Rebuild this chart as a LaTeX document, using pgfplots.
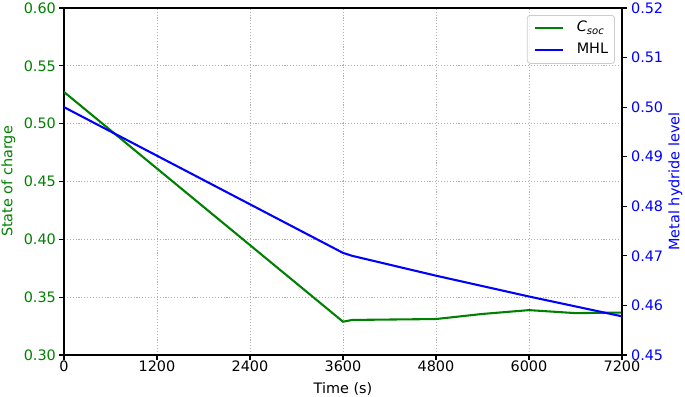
\documentclass[border=0pt]{standalone}
\usepackage{pgfplots}
\pgfplotsset{compat=1.18}
\usepackage{fontspec}
\setmainfont{DejaVu Sans}
\definecolor{mplgreen}{RGB}{0,128,0}
\definecolor{mplblue}{RGB}{0,0,255}
\definecolor{gridgray}{RGB}{176,176,176}
\definecolor{leggray}{RGB}{204,204,204}

\pgfplotstableread{
x y
0 0.5274
3600 0.3288
3720 0.3303
4800 0.3311
5400 0.3355
6000 0.3388
6600 0.3362
7200 0.3367
}\csoc

\pgfplotstableread{
x y
0 0.5000
3600 0.4706
3720 0.4700
4800 0.4660
6000 0.4618
7200 0.4578
}\mhl

\begin{document}
\begin{tikzpicture}
\path[use as bounding box] (-64bp,-42bp) rectangle (621bp,355bp);
\pgfplotsset{
  common/.style={
    width=558bp, height=347bp, scale only axis,
    xmin=0, xmax=7200,
    axis line style={line width=1.1bp, black},
    every tick/.style={line width=1.1bp, black},
    tick align=outside,
    major tick length=4.9bp,
    scaled x ticks=false, scaled y ticks=false,
    /pgf/number format/assume math mode=true,
    tick label style={font=\fontsize{14.4bp}{17bp}\selectfont, inner sep=0pt},
    label style={font=\fontsize{14.4bp}{17bp}\selectfont, inner sep=0pt},
  }
}
\begin{axis}[common,
  ymin=0.30, ymax=0.60,
  xtick={0,1200,2400,3600,4800,6000,7200},
  ytick={0.30,0.35,0.40,0.45,0.50,0.55,0.60},
  xtick pos=left, ytick pos=left,
  xticklabel style={anchor=north, yshift=-1bp, /pgf/number format/1000 sep={}},
  yticklabel style={anchor=east, xshift=-3bp, text=mplgreen, /pgf/number format/fixed, /pgf/number format/fixed zerofill, /pgf/number format/precision=2},
  grid=major,
  major grid style={gridgray, line width=0.8bp, dash pattern=on 1.1bp off 1.8bp},
  xlabel={Time (s)},
  xlabel style={at={(axis description cs:0.5,0)}, anchor=base, yshift=-38bp},
  ylabel={State of charge},
  ylabel style={at={(axis description cs:-0.0995,0.5)}, anchor=center, text=mplgreen},
]
\addplot[mplgreen, line width=2.08bp] table[x=x,y=y] {\csoc};
\end{axis}
\begin{axis}[common,
  ymin=0.45, ymax=0.52,
  axis y line*=right, axis x line=none,
  ytick={0.45,0.46,0.47,0.48,0.49,0.50,0.51,0.52},
  yticklabel style={anchor=west, xshift=4bp, text=mplblue, /pgf/number format/fixed, /pgf/number format/fixed zerofill, /pgf/number format/precision=2},
  ylabel={Metal hydride level},
  ylabel style={at={(axis description cs:1.0959,0.5)}, anchor=center, rotate=0, text=mplblue},
  legend image code/.code={\draw[#1] (0bp,0bp) -- (28bp,0bp);},
  legend style={at={(rel axis cs:1,1)}, anchor=north east, xshift=-7bp, yshift=-7bp,
    draw=leggray, line width=0.8bp, rounded corners=3bp, fill=white, fill opacity=0.8, text opacity=1,
    font=\fontsize{14.4bp}{17bp}\selectfont, inner xsep=6.5bp, inner ysep=5.5bp, row sep=7bp, column sep=13bp,
    nodes={inner sep=0pt, text height=11bp, text depth=4bp},
    cells={anchor=west}},
]
\addlegendimage{mplgreen, line width=2.08bp}
\addplot[mplblue, line width=2.08bp] table[x=x,y=y] {\mhl};
\legend{\textit{C}\textsubscript{\textit{soc}}, MHL}
\end{axis}
\end{tikzpicture}
\end{document}
